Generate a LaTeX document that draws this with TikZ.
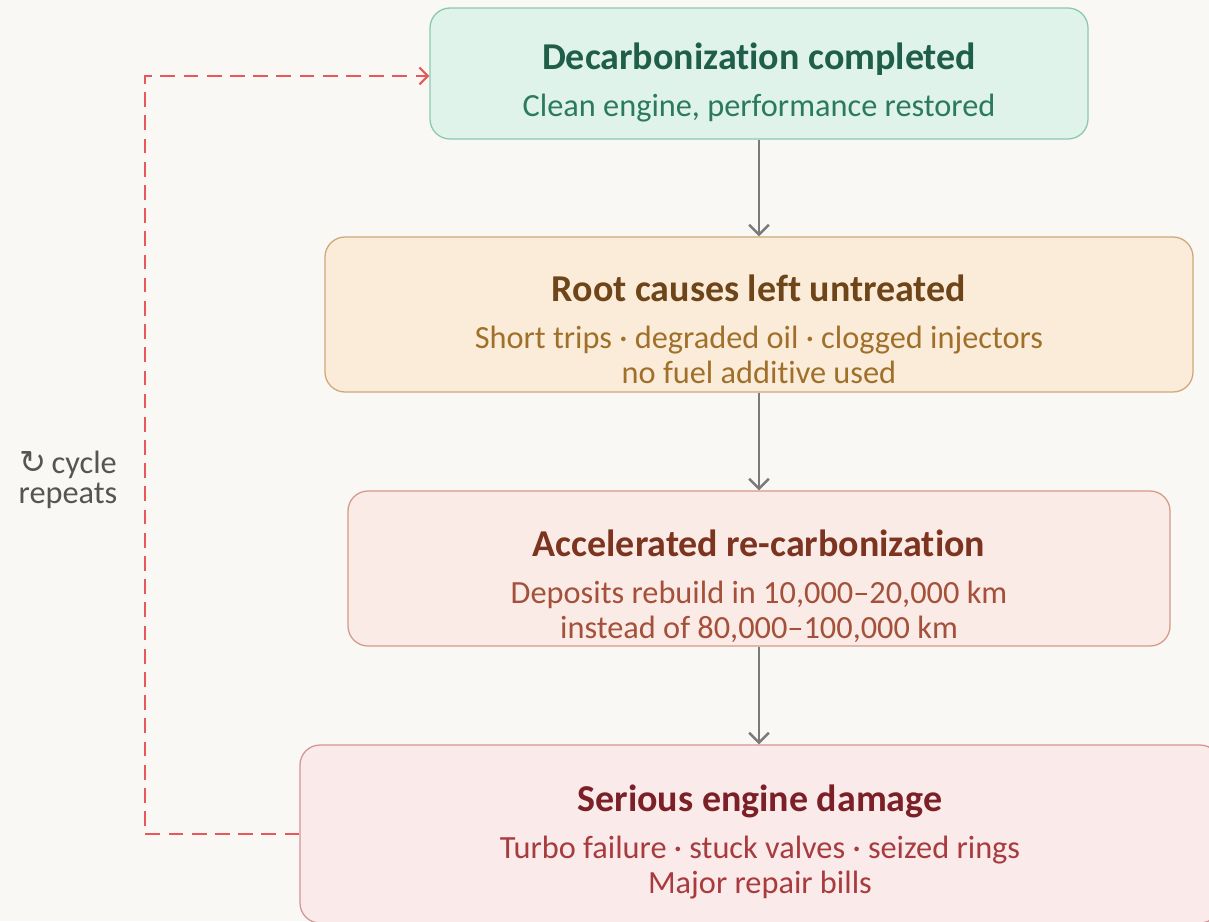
\documentclass[tikz,border=0pt]{standalone}
\usepackage{fontspec}
\setmainfont{Carlito}[Ligatures=NoCommon]
\newfontfamily\arrowfont{DejaVu Sans}
\usetikzlibrary{positioning,arrows.meta}

\definecolor{paper}{HTML}{F9F8F4}
\definecolor{cleanfill}{HTML}{DFF3EB}
\definecolor{cleanline}{HTML}{8DC7B2}
\definecolor{cleanhead}{HTML}{1F5F4A}
\definecolor{cleantext}{HTML}{2B7A5F}
\definecolor{rootfill}{HTML}{FBECDA}
\definecolor{rootline}{HTML}{CDA878}
\definecolor{roothead}{HTML}{6E4518}
\definecolor{roottext}{HTML}{A0702A}
\definecolor{recarbfill}{HTML}{FAEBE6}
\definecolor{recarbline}{HTML}{D39B88}
\definecolor{recarbhead}{HTML}{7C3420}
\definecolor{recarbtext}{HTML}{A4503A}
\definecolor{damagefill}{HTML}{FAEAEA}
\definecolor{damageline}{HTML}{D49595}
\definecolor{damagehead}{HTML}{7B2027}
\definecolor{damagetext}{HTML}{A83B3E}
\definecolor{flowgray}{HTML}{7A7A7A}
\definecolor{loopred}{HTML}{E8585A}
\definecolor{notegray}{HTML}{555555}

\newcommand{\stagehead}[1]{{\fontsize{27}{30}\selectfont\bfseries #1}}

\begin{document}
\begin{tikzpicture}[
  stage/.style={draw, rectangle, rounded corners=0.5cm, line width=0.9pt},
  stagetext/.style={inner sep=0pt, align=center, font=\fontsize{23}{24.9}\selectfont},
  flow/.style={->, >={Straight Barb[length=7pt,width=14pt]}, line width=1.8pt, flowgray},
  loopback/.style={->, >={Straight Barb[length=6pt,width=12pt]}, line width=1.5pt, loopred, dash pattern=on 10.5pt off 6pt},
  note/.style={align=center, text=notegray, font=\fontsize{23}{21.3}\selectfont}
]
\useasboundingbox[fill=paper] (0,0) rectangle (30.225,-23.025);

\node[stage, fill=cleanfill, draw=cleanline, minimum width=16.45cm, minimum height=3.275cm] (clean) at (18.975,-1.8375) {};
\node[stage, fill=rootfill, draw=rootline, minimum width=21.7cm, minimum height=3.875cm] (root) at (18.975,-7.8625) {};
\node[stage, fill=recarbfill, draw=recarbline, minimum width=20.55cm, minimum height=3.875cm] (recarb) at (18.975,-14.2125) {};
\node[stage, fill=damagefill, draw=damageline, minimum width=23cm, minimum height=4.45cm] (damage) at (19,-20.85) {};

\node[stagetext, text=cleantext, below=0.875cm of clean.north] (cleantxt)
  {\stagehead{\textcolor{cleanhead}{Decarbonization completed}}\\[8.5pt]
   Clean engine, performance restored};
\node[stagetext, text=roottext, below=0.95cm of root.north] (roottxt)
  {\stagehead{\textcolor{roothead}{Root causes left untreated}}\\[8.5pt]
   Short trips · degraded oil · clogged injectors\\
   no fuel additive used};
\node[stagetext, text=recarbtext, below=0.98cm of recarb.north] (recarbtxt)
  {\stagehead{\textcolor{recarbhead}{Accelerated re-carbonization}}\\[8.5pt]
   Deposits rebuild in 10,000–20,000 km\\
   instead of 80,000–100,000 km};
\node[stagetext, text=damagetext, below=1.0cm of damage.north] (damagetxt)
  {\stagehead{\textcolor{damagehead}{Serious engine damage}}\\[8.5pt]
   Turbo failure · stuck valves · seized rings\\
   Major repair bills};

\draw[flow] (clean) -- (root);
\draw[flow] (root) -- (recarb);
\draw[flow] (recarb) -- (damage.north -| recarb.south);

% dashed return path
\coordinate (loop) at (3.625,-12);
\draw[loopback] (damage.west) -| (loop) |- ([yshift=-0.06cm]clean.west);
\node[note] (cyclenote) at (1.7,-12) {{\arrowfont ↻}\,cycle\\repeats};
\end{tikzpicture}
\end{document}
